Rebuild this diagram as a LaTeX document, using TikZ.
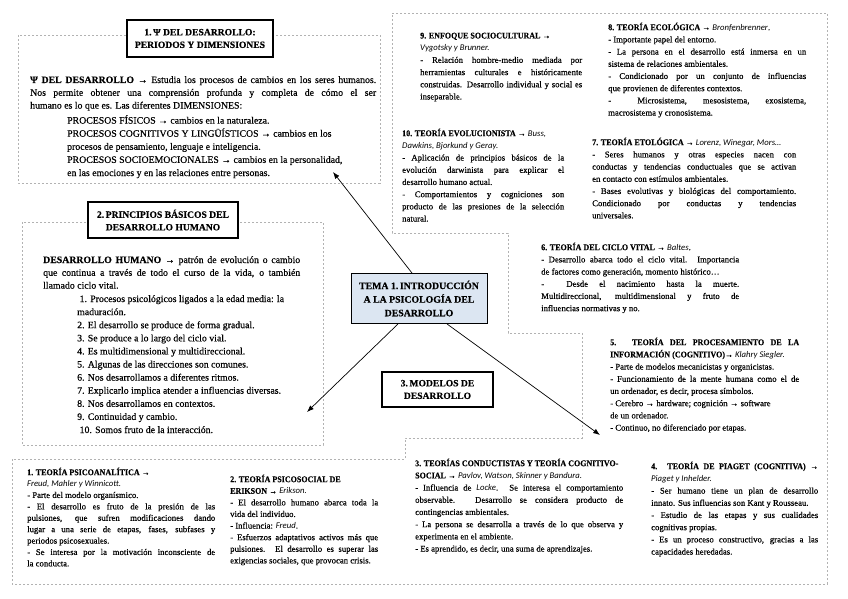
\documentclass[tikz,border=0pt]{standalone}
\usepackage{fontspec}
\setmainfont[FakeBold=0.35]{Liberation Serif}
\newfontfamily\authorfont{Carlito}
\newfontfamily\headfont[FakeStretch=0.92, FakeBold=0.2]{Liberation Serif}
\usetikzlibrary{positioning, arrows.meta}
\definecolor{coreblue}{HTML}{DCE6F2}
\newcommand{\who}[1]{{\authorfont\itshape #1}}
\newcommand{\thead}[1]{{\headfont\bfseries #1}}
\tikzset{
  % Concept map: frames, titles and texts
  mapframe/.style  = { draw=gray!60, line width=0.5pt, dash pattern=on 2.4pt off 1.6pt },
  maptitle/.style  = { draw, line width=1.1pt, fill=white, align=center, inner sep=1pt,
                       font=\bfseries\fontsize{9.6}{12.6}\selectfont },
  mapcore/.style   = { draw, line width=0.9pt, fill=coreblue, align=center, inner sep=1pt,
                       minimum width=136pt, minimum height=50pt,
                       font=\bfseries\fontsize{9.8}{13.6}\selectfont },
  bigtext/.style   = { anchor=north west, inner sep=0pt, align=justify,
                       font=\fontsize{9.8}{12.8}\selectfont },
  listtext/.style  = { anchor=north west, inner sep=0pt, align=left,
                       font=\fontsize{9.8}{13.1}\selectfont },
  theory/.style    = { anchor=north west, inner sep=0pt, align=justify,
                       font=\fontsize{8.7}{12.2}\selectfont },
  maplink/.style   = { line width=0.7pt, -{Latex[length=2.4mm, width=1.8mm]} }
}

\begin{document}
\begin{tikzpicture}[x=1pt, y=-1pt]
  \useasboundingbox (0,0) rectangle (848,599);

  % --- dashed frames ------------------------------------------------
  \draw[mapframe] (392,13) -- (827,13) -- (827,584) -- (12,584) -- (12,459)
    -- (405,459) -- (405,438) -- (582,438) -- (582,333) -- (508,333)
    -- (508,233) -- (392,233) -- cycle;
  \draw[mapframe] (18,35)  rectangle (380,183);
  \draw[mapframe] (22,222) rectangle (323,445);

  % --- 1. psicologia del desarrollo --------------------------------
  \node[maptitle, minimum width=146pt, minimum height=37pt] (dimtitle) at (200,38.5)
    {1.\,Ψ DEL DESARROLLO:\\PERIODOS Y DIMENSIONES};
  \node[bigtext, text width=346pt] (dimintro) at (30,76)
    {\textbf{Ψ DEL DESARROLLO} → Estudia los procesos de cambios en los seres humanos.\linebreak
     Nos permite obtener una comprensión profunda y completa de cómo el ser\linebreak
     humano es lo que es. Las diferentes DIMENSIONES:};
  \node[listtext] (dimlist) at (67,115)
    {PROCESOS FÍSICOS → cambios en la naturaleza.\\
     PROCESOS COGNITIVOS Y LINGÜÍSTICOS → cambios en los\\
     procesos de pensamiento, lenguaje e inteligencia.\\
     PROCESOS SOCIOEMOCIONALES → cambios en la personalidad,\\
     en las emociones y en las relaciones entre personas.};

  % --- 2. principios basicos ---------------------------------------
  \node[maptitle, minimum width=150pt, minimum height=36pt] (printitle) at (163,220)
    {2.\,PRINCIPIOS BÁSICOS DEL\\DESARROLLO HUMANO};
  \node[bigtext, text width=257pt] (prinintro) at (43,256)
    {\textbf{DESARROLLO HUMANO} → patrón de evolución o cambio\linebreak
     que continua a través de todo el curso de la vida, o también\linebreak
     llamado ciclo vital.};
  \node[listtext] (prinlist) at (77,295)
    {\ 1. Procesos psicológicos ligados a la edad media: la\\
     maduración.\\
     2. El desarrollo se produce de forma gradual.\\
     3. Se produce a lo largo del ciclo vial.\\
     4. Es multidimensional y multidireccional.\\
     5. Algunas de las direcciones son comunes.\\
     6. Nos desarrollamos a diferentes ritmos.\\
     7. Explicarlo implica atender a influencias diversas.\\
     8. Nos desarrollamos en contextos.\\
     9. Continuidad y cambio.\\
     \ 10. Somos fruto de la interacción.};

  % --- centre and models -------------------------------------------
  \node[mapcore] (core) at (419,298.5)
    {TEMA 1.\,INTRODUCCIÓN\\A LA PSICOLOGÍA DEL\\DESARROLLO};
  \node[maptitle, minimum width=111pt, minimum height=35pt] (models) at (437.5,389.5)
    {3.\,MODELOS DE\\DESARROLLO};

  \coordinate (dimtip)    at (333,172);
  \coordinate (printip)   at (307,412);
  \coordinate (modeltip)  at (600,435);
  \draw[maplink] ([xshift=-7pt]core.north)  -- (dimtip);
  \draw[maplink] ([xshift=-21pt]core.south) -- (printip);
  \draw[maplink] ([xshift=28pt]core.south)  -- (modeltip);

  % --- theories, top right -----------------------------------------
  \node[theory, text width=162pt] (sociocult) at (420,32.5)
    {\thead{9. ENFOQUE SOCIOCULTURAL →}\newline
     \who{Vygotsky y Brunner.}\newline
     - Relación hombre-medio mediada por\linebreak
     herramientas culturales e históricamente\linebreak
     construidas. Desarrollo individual y social es\linebreak
     inseparable.};
  \node[theory, text width=162pt] (evolution) at (402,128.5)
    {\thead{10. TEORÍA EVOLUCIONISTA →} \who{Buss,}\newline
     \who{Dawkins, Bjorkund y Geray.}\newline
     - Aplicación de principios básicos de la\linebreak
     evolución darwinista para explicar el\linebreak
     desarrollo humano actual.\newline
     - Comportamientos y cogniciones son\linebreak
     producto de las presiones de la selección\linebreak
     natural.};
  \node[theory, text width=198pt] (ecology) at (608,22.5)
    {\thead{8. TEORÍA ECOLÓGICA →} \who{Bronfenbrenner}.\newline
     - Importante papel del entorno.\newline
     - La persona en el desarrollo está inmersa en un\linebreak
     sistema de relaciones ambientales.\newline
     - Condicionado por un conjunto de influencias\linebreak
     que provienen de diferentes contextos.\newline
     - \ Microsistema, mesosistema, exosistema,\linebreak
     macrosistema y cronosistema.};
  \node[theory, text width=204pt] (ethology) at (592,137.5)
    {\thead{7. TEORÍA ETOLÓGICA →} \who{Lorenz, Winegar, Mors\ldots}\newline
     - Seres humanos y otras especies nacen con\linebreak
     conductas y tendencias conductuales que se activan\linebreak
     en contacto con estímulos ambientales.\newline
     - Bases evolutivas y biológicas del comportamiento.\linebreak
     Condicionado por conductas y tendencias\linebreak
     universales.};
  \node[theory, text width=198pt] (lifespan) at (541,242.5)
    {\thead{6. TEORÍA DEL CICLO VITAL →} \who{Baltes}.\newline
     - Desarrollo abarca todo el ciclo vital. Importancia\linebreak
     de factores como generación, momento histórico\ldots\newline
     - \ Desde el nacimiento hasta la muerte.\linebreak
     Multidireccional, multidimensional y fruto de\linebreak
     influencias normativas y no.};
  \node[theory, text width=189pt] (infoproc) at (610,337.5)
    {\thead{5. TEORÍA DEL PROCESAMIENTO DE LA}\linebreak
     \thead{INFORMACIÓN (COGNITIVO)→} \who{Klahry Siegler.}\newline
     - Parte de modelos mecanicistas y organicistas.\newline
     - Funcionamiento de la mente humana como el de\linebreak
     un ordenador, es decir, procesa símbolos.\newline
     - Cerebro → hardware; cognición → software\newline
     de un ordenador.\newline
     - Continuo, no diferenciado por etapas.};

  % --- theories, bottom --------------------------------------------
  \node[theory, text width=188pt, font=\fontsize{8.7}{11.4}\selectfont] (psychoan) at (27,467.5)
    {\thead{1. TEORÍA PSICOANALÍTICA →}\newline
     \who{Freud, Mahler y Winnicott.}\newline
     - Parte del modelo organísmico.\newline
     - El desarrollo es fruto de la presión de las\linebreak
     pulsiones, que sufren modificaciones dando\linebreak
     lugar a una serie de etapas, fases, subfases y\linebreak
     periodos psicosexuales.\newline
     - Se interesa por la motivación inconsciente de\linebreak
     la conducta.};
  \node[theory, text width=148pt, font=\fontsize{8.7}{11.6}\selectfont] (psychosoc) at (230,474.5)
    {\thead{2. TEORÍA PSICOSOCIAL DE}\newline
     \ \thead{ERIKSON →} \who{Erikson.}\newline
     - El desarrollo humano abarca toda la\linebreak
     vida del individuo.\newline
     - Influencia: \who{Freud}.\newline
     - Esfuerzos adaptativos activos más que\linebreak
     pulsiones. El desarrollo es superar las\linebreak
     exigencias sociales, que provocan crisis.};
  \node[theory, text width=208pt] (behavior) at (415,458.5)
    {\thead{3. TEORÍAS CONDUCTISTAS Y TEORÍA COGNITIVO-}\newline
     \thead{SOCIAL →} \who{Pavlov, Watson, Skinner y Bandura.}\newline
     - Influencia de \who{Locke}. Se interesa el comportamiento\linebreak
     observable. Desarrollo se considera producto de\linebreak
     contingencias ambientales.\newline
     - La persona se desarrolla a través de lo que observa y\linebreak
     experimenta en el ambiente.\newline
     - Es aprendido, es decir, una suma de aprendizajes.};
  \node[theory, text width=167pt] (piaget) at (651,461.5)
    {\thead{4. TEORÍA DE PIAGET (COGNITIVA) →}\linebreak
     \who{Piaget y Inhelder.}\newline
     - Ser humano tiene un plan de desarrollo\linebreak
     innato. Sus influencias son Kant y Rousseau.\newline
     - Estudio de las etapas y sus cualidades\linebreak
     cognitivas propias.\newline
     - Es un proceso constructivo, gracias a las\linebreak
     capacidades heredadas.};

\end{tikzpicture}
\end{document}
